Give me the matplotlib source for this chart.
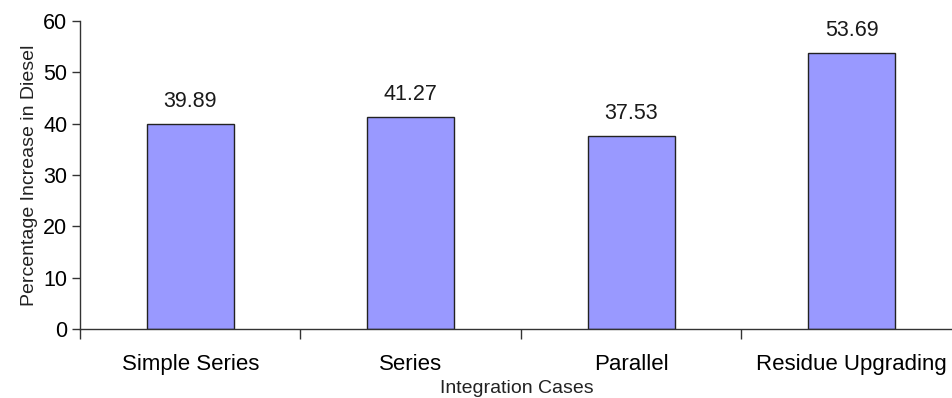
import matplotlib
matplotlib.use("Agg")
import matplotlib.pyplot as plt
import numpy as np

plt.rcParams["font.family"] = ["Liberation Sans", "DejaVu Sans"]

# ── Data ─────────────────────────────────────────────────────────────────────
cases  = ["Simple Series", "Series", "Parallel", "Residue Upgrading"]
values = [39.89, 41.27, 37.53, 53.69]

# ── Plot ─────────────────────────────────────────────────────────────────────
fig = plt.figure(figsize=(9.53, 3.98), dpi=100)
ax = fig.add_axes([80/953, 69/398, 882/953, 308/398])

x = np.arange(len(cases))
ax.bar(x, values, width=0.395, color="#9999FF", edgecolor="#222222", linewidth=1.0, zorder=2)

for xi, v in zip(x, values):
    ax.annotate(f"{v:.2f}", (xi, v), xytext=(0, 9), textcoords="offset points",
                ha="center", va="bottom", fontsize=15.5, color="#1a1a1a")

ax.set_xlim(-0.5, len(cases) - 0.5)
ax.set_ylim(0, 60)
ax.set_yticks(range(0, 61, 10))
ax.tick_params(axis="y", labelsize=15.5, length=6, width=1, color="#333333", pad=3)

ax.set_xticks(x)
ax.set_xticklabels(cases, fontsize=16)
ax.tick_params(axis="x", which="major", length=0, pad=18)
ax.set_xticks(np.arange(-0.5, len(cases), 1.0), minor=True)
ax.tick_params(axis="x", which="minor", length=7, width=1, color="#333333")

for s in ["top", "right"]:
    ax.spines[s].set_visible(False)
for s in ["left", "bottom"]:
    ax.spines[s].set_color("#333333")
    ax.spines[s].set_linewidth(1.0)

ax.set_ylabel("Percentage Increase in Diesel", fontsize=14, color="#222222", labelpad=4)
ax.set_xlabel("Integration Cases", fontsize=14, color="#222222", labelpad=5)
ax.xaxis.set_label_coords(437/882, -0.165)

fig.savefig("out.png", dpi=100)
